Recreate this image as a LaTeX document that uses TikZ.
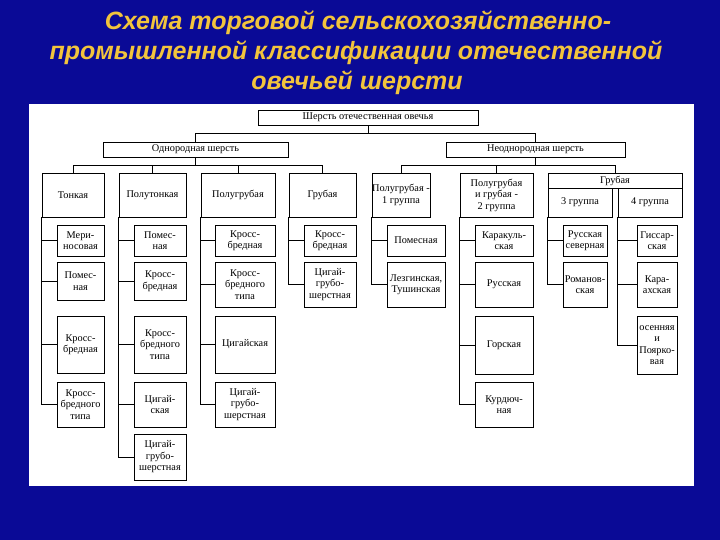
\documentclass[tikz,border=0pt]{standalone}
\usepackage{fontspec}
\setmainfont{Liberation Serif}
\newfontfamily\titlefont{Liberation Sans}
\definecolor{bgblue}{HTML}{0A0A96}
\definecolor{ttl}{HTML}{F2C43C}
\newcommand\bx[6]{\node[bx,minimum width={(#4-#2)*1pt},minimum height={(#5-#3)*1pt}] (#1) at ({(#2+#4)/2},{(#3+#5)/2}) {#6};}
\begin{document}
\begin{tikzpicture}[x=1pt,y=-1pt,
  bx/.style={draw,line width=0.9pt,inner sep=0pt,align=center,font=\fontsize{10.3}{11.5}\selectfont},
  ln/.style={line width=0.8pt},
  ttlf/.style={text=ttl,font=\titlefont\bfseries\itshape\fontsize{25}{28}\selectfont}]
\fill[bgblue] (0,0) rectangle (720,540);
\useasboundingbox (0,0) rectangle (720,540);
\fill[white] (29,104) rectangle (694,486);
\node[ttlf] (t1) at (358,23) {Схема торговой сельскохозяйственно-};
\node[ttlf] (t2) at (356,53) {промышленной классификации отечественной};
\node[ttlf] (t3) at (357,83) {овечьей шерсти};
% top level
\bx{top}{258}{110}{478}{125}{Шерсть отечественная овечья}
\bx{odn}{103}{142}{288}{157}{Однородная шерсть}
\bx{neod}{446}{142}{625}{157}{Неоднородная шерсть}
\draw[ln] (top.south) -- ++(0,8) coordinate (tj) -| (odn.north);
\draw[ln] (tj) -| (neod.north);
% categories
\bx{c1}{42}{173}{104}{217}{Тонкая}
\bx{c2}{119}{173}{186}{217}{Полутонкая}
\bx{c3}{201}{173}{275}{217}{Полугрубая}
\bx{c4}{289}{173}{356}{217}{Грубая}
\bx{c5}{372}{173}{430}{217}{Полугрубая -\\1 группа}
\bx{c6}{460}{173}{533}{217}{Полугрубая\\и грубая -\\2 группа}
\bx{c7h}{548}{173}{682}{188}{Грубая}
\bx{c7}{548}{188}{612}{217}{3 группа}
\bx{c8}{618}{188}{682}{217}{4 группа}
\draw[ln] (odn.south) -- ++(0,8) coordinate (oj) -| (c1.north);
\draw[ln] (oj) -| (c2.north);
\draw[ln] (oj) -| (c3.north);
\draw[ln] (oj) -| (c4.north);
\draw[ln] (neod.south) -- ++(0,8) coordinate (nj) -| (c5.north);
\draw[ln] (nj) -| (c6.north);
\draw[ln] (nj) -| (c7h.north);
% column 1
\bx{a1}{57}{225}{104}{256}{Мери-\\носовая}
\bx{a2}{57}{262}{104}{300}{Помес-\\ная}
\bx{a3}{57}{316}{104}{373}{Кросс-\\бредная}
\bx{a4}{57}{382}{104}{427}{Кросс-\\бредного\\типа}
% column 2
\bx{b1}{134}{225}{186}{256}{Помес-\\ная}
\bx{b2}{134}{262}{186}{300}{Кросс-\\бредная}
\bx{b3}{134}{316}{186}{373}{Кросс-\\бредного\\типа}
\bx{b4}{134}{382}{186}{427}{Цигай-\\ская}
\bx{b5}{134}{434}{186}{480}{Цигай-\\грубо-\\шерстная}
% column 3
\bx{d1}{215}{225}{275}{256}{Кросс-\\бредная}
\bx{d2}{215}{262}{275}{307}{Кросс-\\бредного\\типа}
\bx{d3}{215}{316}{275}{373}{Цигайская}
\bx{d4}{215}{382}{275}{427}{Цигай-\\грубо-\\шерстная}
% column 4
\bx{e1}{304}{225}{356}{256}{Кросс-\\бредная}
\bx{e2}{304}{262}{356}{307}{Цигай-\\грубо-\\шерстная}
% column 5
\bx{f1}{387}{225}{445}{256}{Помесная}
\bx{f2}{387}{262}{445}{307}{Лезгинская,\\Тушинская}
% column 6
\bx{g1}{475}{225}{533}{256}{Каракуль-\\ская}
\bx{g2}{475}{262}{533}{307}{Русская}
\bx{g3}{475}{316}{533}{374}{Горская}
\bx{g4}{475}{382}{533}{427}{Курдюч-\\ная}
% column 7
\bx{h1}{563}{225}{607}{256}{Русская\\северная}
\bx{h2}{563}{262}{607}{307}{Романов-\\ская}
% column 8
\bx{k1}{637}{225}{677}{256}{Гиссар-\\ская}
\bx{k2}{637}{262}{677}{307}{Кара-\\ахская}
\bx{k3}{637}{316}{677}{374}{осенняя\\и\\Поярко-\\вая}
% trunks
\foreach \p/\cs in {c1/{a1,a2,a3,a4},c2/{b1,b2,b3,b4,b5},c3/{d1,d2,d3,d4},c4/{e1,e2},c5/{f1,f2},c6/{g1,g2,g3,g4},c7/{h1,h2},c8/{k1,k2,k3}}
  \foreach \c in \cs \draw[ln] (\p.south west) |- (\c.west);
\end{tikzpicture}
\end{document}
